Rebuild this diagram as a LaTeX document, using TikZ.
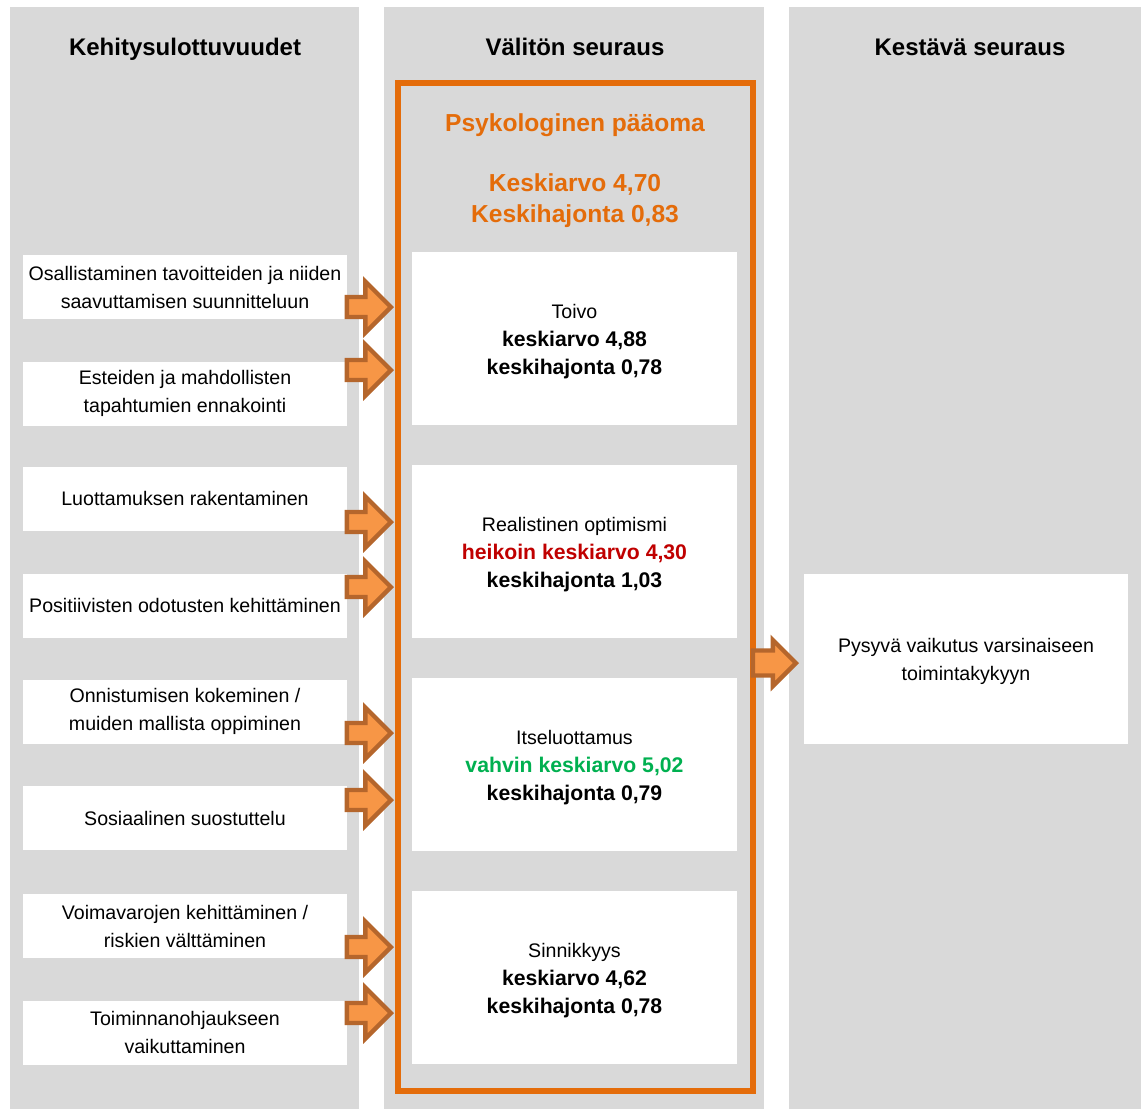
\documentclass[tikz,border=0pt]{standalone}
\usepackage{fontspec}
\setmainfont{Liberation Sans}
\usetikzlibrary{shapes.arrows}
\definecolor{panelgray}{HTML}{D9D9D9}
\definecolor{capframe}{HTML}{E46C0A}
\definecolor{arrowfill}{HTML}{F79646}
\definecolor{arrowedge}{HTML}{B5662C}
\definecolor{weakred}{HTML}{C00000}
\definecolor{stronggreen}{HTML}{00B050}
\newcommand\statline[1]{{\fontsize{10.6}{14}\selectfont\bfseries #1}}
\begin{document}
\begin{tikzpicture}[x=0.5pt,y=-0.5pt,
  panel/.style={fill=panelgray, draw=none},
  header/.style={font=\fontsize{12}{14}\selectfont\bfseries,
    text height=9pt, text depth=0pt},
  card/.style={fill=white, draw=none, align=center, inner sep=0pt,
    font=\fontsize{9.8}{14}\selectfont},
  cardtext/.style={align=center, inner sep=0pt,
    font=\fontsize{9.8}{14}\selectfont},
  leftcard/.style={card, minimum width=162pt, minimum height=32pt},
  midcard/.style={card, minimum width=162.5pt, minimum height=86.5pt},
  rightcard/.style={card, minimum width=162pt, minimum height=85pt},
  captitle/.style={text=capframe, align=center,
    font=\fontsize{12.3}{15.5}\selectfont\bfseries},
  inarrow/.style={single arrow, draw=arrowedge, fill=arrowfill,
    line width=2.2pt, line join=miter, inner sep=3.9pt,
    minimum height=22pt, single arrow head extend=7.75pt,
    single arrow tip angle=90, anchor=tip},
  outarrow/.style={inarrow, inner sep=5.15pt, minimum height=21.5pt,
    single arrow head extend=5.25pt}
]
\useasboundingbox (0,0) rectangle (1141,1109);
\fill[white] (0,0) rectangle (1141,1109);

% three column panels
\path[panel] (10,7) rectangle (359,1109);
\path[panel] (384,7) rectangle (764,1109);
\path[panel] (789,7) rectangle (1141,1109);

% column headings
\node[header] (h1) at (185,46) {Kehitysulottuvuudet};
\node[header] (h2) at (575,46) {Välitön seuraus};
\node[header] (h3) at (970,46) {Kestävä seuraus};

% psychological capital frame
\draw[capframe, line width=3pt] (398,83) rectangle (753,1091);
\node[captitle] (cap) at (575,125) {Psykologinen pääoma};
\node[captitle] (capstat) at (575,200.5) {Keskiarvo 4,70\\Keskihajonta 0,83};

% development dimensions
\node[leftcard] (d1) at (185,287) {Osallistaminen tavoitteiden ja niiden\\saavuttamisen suunnitteluun};
\node[leftcard] (d2) at (185,393.5) {Esteiden ja mahdollisten\\tapahtumien ennakointi};
\node[leftcard] (d3) at (185,498.5) {Luottamuksen rakentaminen};
\node[leftcard] (d4) at (185,605.5) {Positiivisten odotusten kehittäminen};
\node[leftcard] (d5) at (185,711.5) {Onnistumisen kokeminen /\\muiden mallista oppiminen};
\node[leftcard] (d6) at (185,818) {Sosiaalinen suostuttelu};
\node[leftcard] (d7) at (185,926) {Voimavarojen kehittäminen /\\riskien välttäminen};
\node[leftcard] (d8) at (185,1032.5) {Toiminnanohjaukseen\\vaikuttaminen};

% components of psychological capital
\node[midcard] (m1) at (574.5,338.5) {};
\node[midcard] (m2) at (574.5,551.5) {};
\node[midcard] (m3) at (574.5,764.5) {};
\node[midcard] (m4) at (574.5,977.5) {};
\node[cardtext] (m1t) at ([yshift=-1.5pt]m1.center) {Toivo\\\statline{keskiarvo 4,88}\\\statline{keskihajonta 0,78}};
\node[cardtext] (m2t) at ([yshift=-1.5pt]m2.center) {Realistinen optimismi\\\statline{\textcolor{weakred}{heikoin keskiarvo 4,30}}\\\statline{keskihajonta 1,03}};
\node[cardtext] (m3t) at ([yshift=-1.5pt]m3.center) {Itseluottamus\\\statline{\textcolor{stronggreen}{vahvin keskiarvo 5,02}}\\\statline{keskihajonta 0,79}};
\node[cardtext] (m4t) at ([yshift=-1.5pt]m4.center) {Sinnikkyys\\\statline{keskiarvo 4,62}\\\statline{keskihajonta 0,78}};

% lasting outcome
\node[rightcard] (r1) at (966,659) {};
\node[cardtext] (r1t) at ([yshift=-1pt]r1.center) {Pysyvä vaikutus varsinaiseen\\toimintakykyyn};

% block arrows into the frame
\node[inarrow] (a1) at (394,307) {};
\node[inarrow] (a2) at (394,370) {};
\node[inarrow] (a3) at (394,522) {};
\node[inarrow] (a4) at (394,587) {};
\node[inarrow] (a5) at (394,733) {};
\node[inarrow] (a6) at (394,800) {};
\node[inarrow] (a7) at (394,947) {};
\node[inarrow] (a8) at (394,1013) {};

% block arrow out of the frame
\node[outarrow] (a9) at (799,663) {};
\end{tikzpicture}
\end{document}
